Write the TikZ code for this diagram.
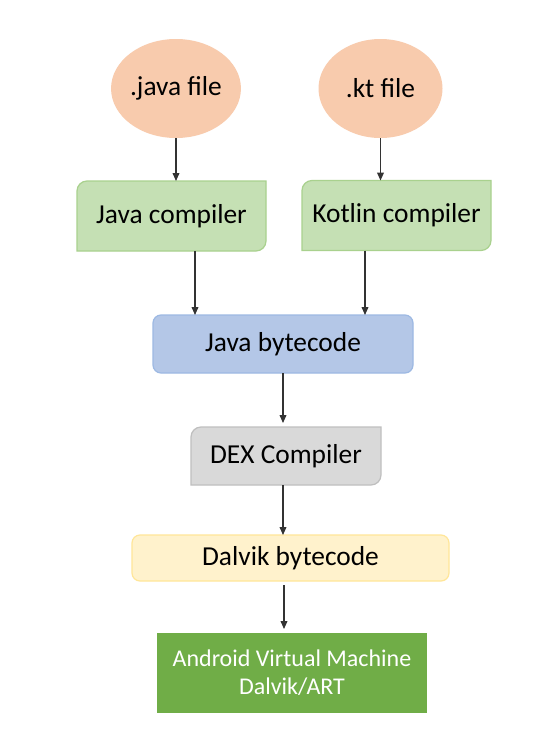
\documentclass[tikz,border=0pt]{standalone}
\usepackage{fontspec}
\setmainfont{Carlito}
\usetikzlibrary{arrows.meta,positioning,shapes.geometric,backgrounds,calc}
\usepackage{xcolor}
\definecolor{peach}{HTML}{F8CBAD}
\definecolor{leaf}{HTML}{C5E0B4}
\definecolor{leafline}{HTML}{A9D18E}
\definecolor{sky}{HTML}{B4C7E7}
\definecolor{skyline}{HTML}{9DB9E3}
\definecolor{stone}{HTML}{D9D9D9}
\definecolor{stoneline}{HTML}{BFBFBF}
\definecolor{cream}{HTML}{FFF2CC}
\definecolor{creamline}{HTML}{FFE699}
\definecolor{android}{HTML}{70AD47}
\definecolor{wire}{HTML}{333333}

\newcommand{\snipbox}[3]{%
  \filldraw[fill=#2, draw=#3, line width=0.6pt]
    (#1.north east) -- ([yshift=5pt]#1.south east)
    arc[start angle=0, end angle=-90, radius=5pt] -- (#1.south west)
    -- ([yshift=-5pt]#1.north west)
    arc[start angle=180, end angle=90, radius=5pt] -- cycle;}

\begin{document}
\begin{tikzpicture}[x=0.5pt, y=-0.5pt,
      txt/.style={font=\fontsize{13.7}{16}\selectfont, inner sep=0pt, outer sep=0pt, align=center},
      src/.style={txt, ellipse, fill=peach, minimum width=62pt, minimum height=49.5pt},
      cmp/.style={txt, minimum width=94.5pt, minimum height=35pt},
      code/.style={txt, rounded corners=4pt, line width=0.6pt},
      arr/.style={-{Triangle[length=4pt, width=3.4pt]}, line width=0.6pt, wire}
    ]
      \useasboundingbox (0,0) rectangle (559,734);

      \node[src] (jf) at (176,88.5) {.java file};
      \node[src] (kf) at (380.5,88.5) {.kt file};

      \node[cmp] (jc) at (171.5,216) {Java compiler};
      \node[cmp] (kc) at (396.5,215.5) {Kotlin compiler};

      \node[code, fill=sky, draw=skyline, minimum width=130pt, minimum height=29pt] (jb) at (283,344) {Java bytecode};
      \node[cmp, minimum width=95pt, minimum height=29pt] (dex) at (286,456) {DEX Compiler};
      \node[code, fill=cream, draw=creamline, minimum width=158.5pt, minimum height=23pt] (dal) at (290.5,558) {Dalvik bytecode};
      \node[txt, fill=android, text=white, font=\fontsize{12}{14}\selectfont,
            minimum width=135pt, minimum height=40pt] (avm) at (292,673) {Android Virtual Machine\\Dalvik/ART};

      \begin{scope}[on background layer]
        \fill[white] (0,0) rectangle (559,734);
        \snipbox{jc}{leaf}{leafline}
        \snipbox{kc}{leaf}{leafline}
        \snipbox{dex}{stone}{stoneline}
      \end{scope}

      \draw[arr] (jf.south) -- (jf.south |- jc.north);
      \draw[arr] (kf.south) -- (kf.south |- kc.north);
      \draw[arr] ([xshift=11.75pt]jc.south) -- ([xshift=11.75pt]jc.south |- jb.north);
      \draw[arr] ([xshift=-15.75pt]kc.south) -- ([xshift=-15.75pt]kc.south |- jb.north);
      \draw[arr, shorten >=2pt] (jb.south) -- (jb.south |- dex.north);
      \draw[arr] (jb.south |- dex.south) -- (jb.south |- dal.north);
      \draw[arr, shorten <=2pt, shorten >=2pt] ([xshift=0.5pt]jb.south |- dal.south) -- ([xshift=0.5pt]jb.south |- avm.north);
    \end{tikzpicture}
\end{document}
